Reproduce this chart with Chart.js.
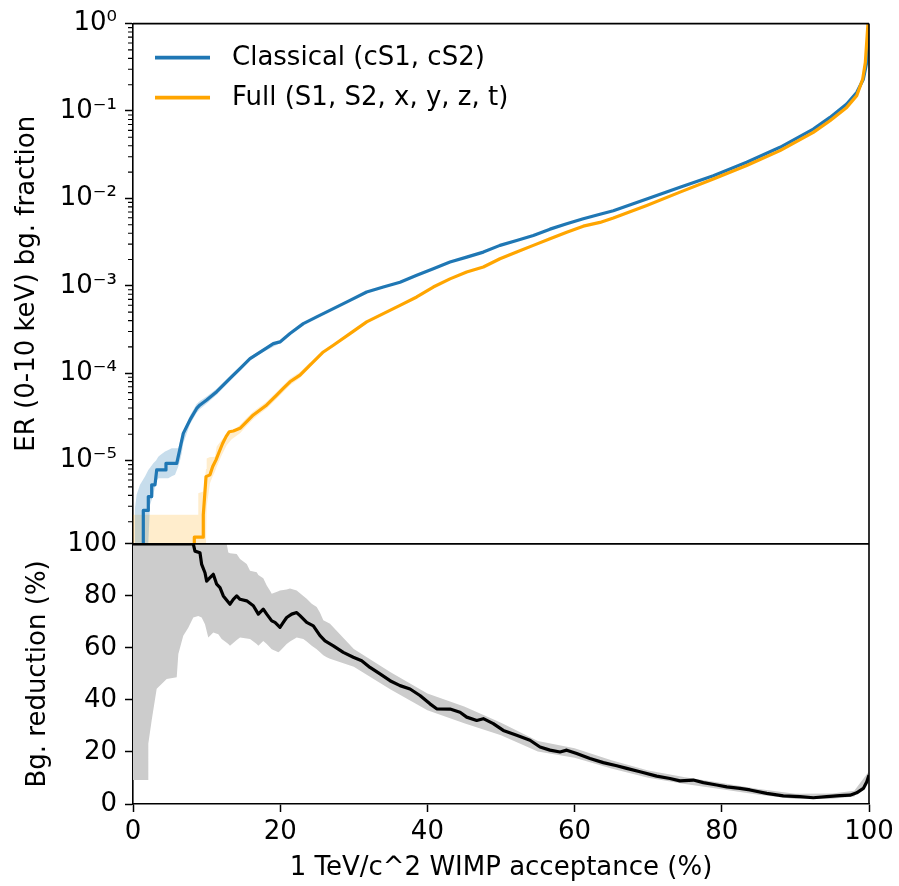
<!DOCTYPE html>
<html>
<head>
<meta charset="utf-8">
<script src="https://cdn.jsdelivr.net/npm/chart.js@4.4.0/dist/chart.umd.min.js"></script>
<style>
  html, body { margin: 0; padding: 0; background: #fff; }
</style>
</head>
<body>
<canvas id="chart" width="899" height="886"></canvas>
<script>
// lower edge of the log axis (a little above 1e-6)
var YMIN = 1.115e-6;

// top panel: classical (cS1, cS2)
var classicalX = [1.40, 1.40, 2.08, 2.08, 2.54, 2.54, 2.99, 3.22, 4.35, 4.48, 5.94, 6.39, 6.83, 7.74, 8.65, 9.10, 10.01, 11.37, 13.18, 14.54, 15.90, 17.70, 19.06, 19.97, 21.33, 23.14, 24.96, 27.22, 29.48, 31.75, 34.01, 36.28, 38.55, 40.80, 43.07, 45.34, 47.60, 49.86, 52.13, 54.39, 56.66, 58.93, 61.18, 63.45, 65.26, 69.80, 74.32, 78.85, 83.38, 87.91, 92.43, 94.70, 96.97, 98.33, 99.23, 99.69, 99.91, 100];
var classicalY = [YMIN, 2.69e-6, 2.69e-6, 3.88e-6, 3.88e-6, 5.28e-6, 5.28e-6, 7.83e-6, 7.83e-6, 9.31e-6, 9.31e-6, 1.38e-5, 2.05e-5, 2.92e-5, 3.95e-5, 4.33e-5, 4.93e-5, 6.14e-5, 8.71e-5, 1.13e-4, 1.47e-4, 1.84e-4, 2.18e-4, 2.28e-4, 2.84e-4, 3.69e-4, 4.41e-4, 5.48e-4, 6.82e-4, 8.49e-4, 9.68e-4, 1.10e-3, 1.32e-3, 1.57e-3, 1.87e-3, 2.13e-3, 2.43e-3, 2.90e-3, 3.30e-3, 3.77e-3, 4.45e-3, 5.13e-3, 5.85e-3, 6.60e-3, 7.23e-3, 9.86e-3, 1.34e-2, 1.82e-2, 2.59e-2, 3.84e-2, 6.21e-2, 8.45e-2, 0.120, 0.163, 0.231, 0.359, 0.662, 1.0];
var classicalBandX = [0.27, 0.50, 0.95, 1.63, 2.08, 2.31, 2.76, 3.13, 3.44, 3.67, 4.35, 4.80, 5.26, 5.71, 6.15, 6.39, 6.62, 6.83, 7.74, 8.65, 9.10, 10.01, 11.37, 13.18, 14.54, 15.90, 17.70, 19.97];
var classicalBandHi = [2.86e-6, 4.09e-6, 5.28e-6, 6.56e-6, 7.83e-6, 8.3e-6, 9.31e-6, 1.0e-5, 1.11e-5, 1.15e-5, 1.27e-5, 1.32e-5, 1.38e-5, 1.38e-5, 1.38e-5, 1.65e-5, 1.9e-5, 2.14e-5, 3.27e-5, 4.44e-5, 4.80e-5, 5.41e-5, 6.65e-5, 9.33e-5, 1.20e-4, 1.54e-4, 1.92e-4, 2.36e-4];
var classicalBandLo = [YMIN, YMIN, YMIN, YMIN, YMIN, 3.11e-6, 4.05e-6, 5.77e-6, 6.28e-6, 6.28e-6, 6.28e-6, 6.28e-6, 6.6e-6, 6.87e-6, 8.55e-6, 1.0e-5, 1.21e-5, 1.58e-5, 2.60e-5, 3.52e-5, 3.90e-5, 4.50e-5, 5.66e-5, 8.13e-5, 1.07e-4, 1.41e-4, 1.75e-4, 2.20e-4];

// top panel: full (S1, S2, x, y, z, t)
var fullX = [8.33, 8.33, 9.55, 9.55, 9.78, 9.92, 10.46, 10.83, 11.28, 11.73, 12.19, 12.64, 13.09, 13.63, 14.54, 15.45, 16.35, 17.26, 18.17, 19.52, 20.42, 21.33, 22.69, 24.05, 25.86, 27.22, 29.48, 31.75, 34.01, 36.28, 38.55, 40.80, 43.07, 45.34, 47.60, 49.86, 52.13, 54.39, 56.66, 58.93, 61.18, 63.45, 65.26, 69.80, 74.32, 78.85, 83.38, 87.91, 92.43, 94.70, 96.97, 98.33, 99.14, 99.50, 99.86];
var fullY = [YMIN, 1.33e-6, 1.33e-6, 2.40e-6, 4.43e-6, 6.56e-6, 6.87e-6, 8.55e-6, 1.02e-5, 1.27e-5, 1.58e-5, 1.88e-5, 2.14e-5, 2.18e-5, 2.34e-5, 2.79e-5, 3.33e-5, 3.79e-5, 4.33e-5, 5.62e-5, 6.70e-5, 7.98e-5, 9.51e-5, 1.24e-4, 1.75e-4, 2.09e-4, 2.84e-4, 3.86e-4, 4.81e-4, 5.98e-4, 7.45e-4, 9.68e-4, 1.20e-3, 1.44e-3, 1.64e-3, 2.04e-3, 2.43e-3, 2.90e-3, 3.45e-3, 4.11e-3, 4.81e-3, 5.31e-3, 5.96e-3, 8.30e-3, 1.18e-2, 1.67e-2, 2.38e-2, 3.52e-2, 5.70e-2, 7.74e-2, 0.110, 0.150, 0.231, 0.359, 1.0];
var fullBandX = [0, 8.87, 8.87, 9.55, 9.78, 9.92, 10.01, 10.46, 10.83, 11.14, 11.37, 12.05, 12.73, 13.41, 14.54, 15.45, 16.35, 17.26, 18.17, 19.52, 20.42, 21.33, 22.69, 24.05];
var fullBandHi = [2.40e-6, 2.40e-6, 4.24e-6, 4.43e-6, 6.28e-6, 8.0e-6, 1.06e-5, 1.10e-5, 1.10e-5, 1.11e-5, 1.45e-5, 1.72e-5, 1.96e-5, 2.14e-5, 2.55e-5, 3.1e-5, 3.65e-5, 4.15e-5, 4.75e-5, 6.15e-5, 7.3e-5, 8.7e-5, 1.03e-4, 1.33e-4];
var fullBandLo = [YMIN, YMIN, YMIN, YMIN, YMIN, YMIN, 3.0e-6, 5.5e-6, 6.6e-6, 7.5e-6, 8.5e-6, 1.15e-5, 1.5e-5, 1.75e-5, 2.05e-5, 2.5e-5, 3.0e-5, 3.45e-5, 3.95e-5, 5.1e-5, 6.1e-5, 7.3e-5, 8.8e-5, 1.16e-4];

// bottom panel: background reduction (%)
var reductionX = [0, 8.19, 8.42, 9.10, 9.33, 9.78, 10.01, 10.46, 10.91, 11.37, 11.82, 12.27, 13.18, 13.63, 14.09, 14.54, 15.45, 16.35, 17.03, 17.70, 18.17, 18.85, 19.29, 19.97, 20.42, 20.88, 21.56, 22.24, 22.69, 23.60, 24.50, 25.41, 26.09, 27.22, 28.57, 29.93, 31.07, 32.20, 33.56, 34.92, 36.28, 37.64, 38.99, 40.35, 41.26, 43.07, 44.43, 45.34, 46.70, 47.60, 48.95, 50.31, 52.13, 53.94, 55.30, 56.66, 58.02, 58.93, 60.28, 62.09, 63.90, 65.72, 67.08, 68.89, 71.15, 72.96, 74.32, 76.13, 77.49, 79.31, 80.67, 82.47, 83.83, 86.10, 88.36, 90.62, 92.43, 94.25, 96.01, 97.42, 98.33, 99.23, 99.69, 100];
var reductionY = [100, 100, 97.2, 96.6, 92.1, 88.9, 85.7, 87.0, 88.3, 84.5, 83.2, 80.0, 76.8, 78.7, 80.0, 78.7, 78.1, 76.2, 73.0, 74.9, 73.0, 70.4, 69.8, 67.9, 69.8, 71.7, 73.0, 73.6, 72.4, 69.8, 68.5, 64.7, 62.7, 60.8, 58.3, 56.4, 55.1, 52.5, 50.0, 47.4, 45.5, 44.2, 41.7, 38.5, 36.6, 36.5, 35.3, 33.4, 32.1, 32.8, 30.9, 28.3, 26.4, 24.5, 21.9, 20.7, 20.0, 20.7, 19.4, 17.5, 15.9, 14.7, 13.7, 12.4, 10.7, 9.8, 8.9, 9.2, 8.2, 7.3, 6.6, 6.0, 5.4, 4.1, 3.1, 2.8, 2.4, 2.8, 3.2, 3.4, 4.3, 6.0, 8.5, 11.1];
var reductionBandX = [0, 2.08, 2.08, 2.54, 3.22, 4.58, 5.94, 6.16, 6.83, 7.51, 8.19, 8.87, 9.33, 9.78, 10.23, 10.91, 11.59, 12.05, 12.73, 12.95, 13.18, 14.09, 14.54, 15.45, 15.90, 16.81, 17.03, 17.70, 18.17, 18.62, 18.85, 19.75, 19.97, 20.88, 21.33, 22.24, 23.14, 23.60, 24.28, 24.96, 25.41, 25.86, 26.32, 26.77, 30, 35, 40, 45, 50, 55, 60, 65, 70, 75, 80, 85, 90, 95, 98, 100];
var reductionBandHi = [100, 100, 100, 100, 100, 100, 100, 100, 100, 100, 100, 100, 100, 100, 100, 100, 100, 100, 100, 96.7, 96.4, 96.1, 94.2, 92.3, 89.7, 89.1, 88.0, 86.8, 84.0, 82.0, 80.8, 81.8, 82.1, 82.5, 82.8, 82.1, 80.0, 78.9, 77.0, 75.7, 73.5, 70.6, 70.0, 69.3, 59.6, 50.6, 42.5, 37.5, 31.2, 24.2, 21.4, 16.8, 12.9, 10.3, 8.1, 5.8, 3.9, 4.0, 5.1, 12.6];
var reductionBandLo = [9.2, 9.2, 23.2, 32.2, 44.3, 48.1, 48.7, 57.7, 64.7, 67.8, 71.7, 72.3, 71.7, 69.1, 64.0, 65.9, 65.3, 63.4, 62.0, 61.5, 60.8, 63.0, 64.0, 63.6, 63.4, 61.5, 60.8, 62.7, 61.5, 60.2, 59.5, 58.3, 58.8, 61.5, 62.5, 64.0, 63.4, 62.5, 60.8, 59.5, 58.3, 57.2, 56.4, 55.8, 52.8, 44.0, 36.0, 31.0, 26.4, 20.2, 17.8, 13.6, 10.1, 7.7, 5.7, 3.6, 1.9, 2.0, 2.9, 9.6];

// tick labels
var logTicks = [1e-5, 1e-4, 1e-3, 1e-2, 1e-1, 1];
var logTickLabels = ['10\u207B\u2075', '10\u207B\u2074', '10\u207B\u00B3', '10\u207B\u00B2', '10\u207B\u00B9', '10\u2070'];

// minor ticks on the log axis: 2..9 times each decade
var minorTicks = [];
for (var e = -6; e < 0; e++) {
    for (var m = 2; m <= 9; m++) {
        var v = m * Math.pow(10, e);
        if (v > YMIN) minorTicks.push(v);
    }
}

var FONT = 'DejaVu Sans';
var FONT_SIZE = 26;

function pts(xs, ys) {
    return xs.map(function(x, i) { return { x: x, y: ys[i] }; });
}

// frame, minor ticks and the legend inside the top panel
var panelExtras = {
    id: 'panelExtras',
    afterDraw: function(chart) {
        var ctx = chart.ctx;
        var ca = chart.chartArea;
        var ys = chart.scales.y;
        ctx.save();
        ctx.strokeStyle = '#000';
        ctx.lineWidth = 1.6;
        ctx.beginPath();
        ctx.moveTo(ca.left, ca.top);
        ctx.lineTo(ca.right, ca.top);
        ctx.moveTo(ca.right, ca.top);
        ctx.lineTo(ca.right, ca.bottom);
        ctx.moveTo(ca.left, ys.bottom);
        ctx.lineTo(ca.right, ys.bottom);
        ctx.stroke();

        ctx.lineWidth = 1.1;
        ctx.beginPath();
        minorTicks.forEach(function(t) {
            var p = ys.getPixelForValue(t);
            ctx.moveTo(ys.right - 5, p);
            ctx.lineTo(ys.right, p);
        });
        ctx.stroke();

        // legend
        ctx.font = FONT_SIZE + 'px "' + FONT + '"';
        ctx.textBaseline = 'middle';
        ctx.textAlign = 'left';
        [0, 1].forEach(function(i) {
            var ds = chart.data.datasets[i];
            var y = ca.top + 34 + i * 40;
            ctx.strokeStyle = ds.borderColor;
            ctx.lineWidth = 3.6;
            ctx.beginPath();
            ctx.moveTo(ca.left + 22, y);
            ctx.lineTo(ca.left + 77, y);
            ctx.stroke();
            ctx.fillStyle = '#000';
            ctx.fillText(ds.label, ca.left + 99, y + 1);
        });
        ctx.restore();
    }
};

Chart.defaults.font.family = FONT;
Chart.defaults.font.size = FONT_SIZE;
Chart.defaults.color = '#000';

var ctx = document.getElementById('chart').getContext('2d');
var chart = new Chart(ctx, {
    type: 'line',
    data: {
        datasets: [
            { label: 'Classical (cS1, cS2)', data: pts(classicalX, classicalY), yAxisID: 'y',
              borderColor: '#1f77b4', borderWidth: 3.2, order: 1 },
            { label: 'Full (S1, S2, x, y, z, t)', data: pts(fullX, fullY), yAxisID: 'y',
              borderColor: '#ffa500', borderWidth: 3.2, order: 0 },
            { label: 'classical band', data: pts(classicalBandX, classicalBandHi), yAxisID: 'y',
              fill: '+1', backgroundColor: 'rgba(31,119,180,0.25)', borderColor: 'rgba(0,0,0,0)', borderWidth: 0, order: 5 },
            { label: 'classical band lo', data: pts(classicalBandX, classicalBandLo), yAxisID: 'y',
              borderColor: 'rgba(0,0,0,0)', borderWidth: 0, order: 5 },
            { label: 'full band', data: pts(fullBandX, fullBandHi), yAxisID: 'y',
              fill: '+1', backgroundColor: 'rgba(255,165,0,0.2)', borderColor: 'rgba(0,0,0,0)', borderWidth: 0, order: 6 },
            { label: 'full band lo', data: pts(fullBandX, fullBandLo), yAxisID: 'y',
              borderColor: 'rgba(0,0,0,0)', borderWidth: 0, order: 6 },
            { label: 'Bg. reduction', data: pts(reductionX, reductionY), yAxisID: 'yr',
              borderColor: '#000', borderWidth: 3.2, order: 0 },
            { label: 'reduction band', data: pts(reductionBandX, reductionBandHi), yAxisID: 'yr',
              fill: '+1', backgroundColor: 'rgb(204,204,204)', borderColor: 'rgba(0,0,0,0)', borderWidth: 0, order: 5 },
            { label: 'reduction band lo', data: pts(reductionBandX, reductionBandLo), yAxisID: 'yr',
              borderColor: 'rgba(0,0,0,0)', borderWidth: 0, order: 5 }
        ]
    },
    options: {
        responsive: false,
        animation: false,
        events: [],
        layout: { padding: { left: 0, top: 21, right: 30, bottom: 0 } },
        elements: {
            point: { radius: 0 },
            line: { tension: 0, fill: false, borderJoinStyle: 'round' }
        },
        plugins: {
            legend: { display: false },
            tooltip: { enabled: false }
        },
        scales: {
            x: {
                type: 'linear',
                min: 0,
                max: 100,
                ticks: { stepSize: 20, padding: 5, maxRotation: 0, autoSkip: false },
                grid: { drawOnChartArea: false, tickLength: 8, tickColor: '#000', tickWidth: 1.5 },
                border: { color: '#000', width: 1.6 },
                title: { display: true, text: '1 TeV/c^2 WIMP acceptance (%)', padding: { top: 0, bottom: 2 } },
                afterFit: function(s) { s.height = 82; }
            },
            y: {
                type: 'logarithmic',
                position: 'left',
                stack: 'panels',
                stackWeight: 2,
                weight: 2,
                min: YMIN,
                max: 1,
                afterBuildTicks: function(s) {
                    s.ticks = logTicks.map(function(v) { return { value: v }; });
                },
                ticks: {
                    padding: 8,
                    autoSkip: false,
                    callback: function(v, i) { return logTickLabels[i]; }
                },
                grid: { drawOnChartArea: false, tickLength: 8, tickColor: '#000', tickWidth: 1.5 },
                border: { color: '#000', width: 1.6 },
                title: { display: true, text: 'ER (0-10 keV) bg. fraction', padding: { top: 12, bottom: 0 } },
                afterFit: function(s) { s.width = 133; }
            },
            yr: {
                type: 'linear',
                position: 'left',
                stack: 'panels',
                stackWeight: 1,
                weight: 1,
                min: 0,
                max: 100,
                ticks: { stepSize: 20, padding: 8, autoSkip: false },
                grid: { drawOnChartArea: false, tickLength: 8, tickColor: '#000', tickWidth: 1.5 },
                border: { color: '#000', width: 1.6 },
                title: { display: true, text: 'Bg. reduction (%)', padding: { top: 23, bottom: 0 } },
                afterFit: function(s) { s.width = 133; }
            }
        }
    },
    plugins: [panelExtras]
});
</script>
</body>
</html>
